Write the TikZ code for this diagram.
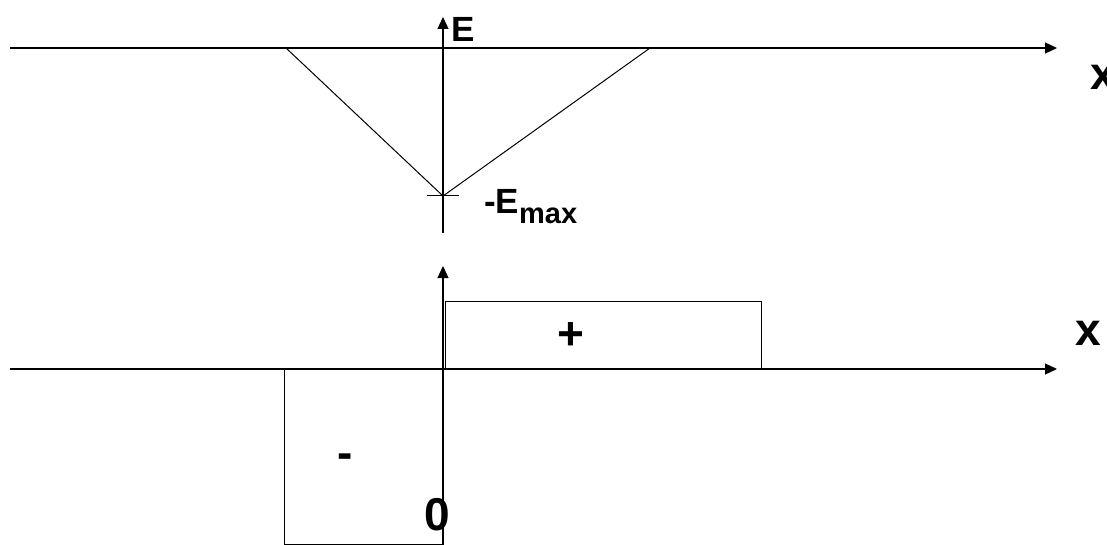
\documentclass[tikz,border=0pt]{standalone}
\usepackage{fontspec}
\setmainfont{Liberation Sans}
\usetikzlibrary{arrows.meta,positioning}
\tikzset{
  %% axes and plain lines
  axis/.style={-{Triangle[length=12pt,width=11pt]},line width=1.2pt,color=black},
  ln/.style={line width=1pt,color=black},
  %% text labels
  lbl/.style={font=\bfseries\fontsize{35}{38}\selectfont,inner sep=0pt},
  biglbl/.style={font=\bfseries\fontsize{46}{50}\selectfont,inner sep=0pt},
}
\newcommand{\subtxt}[1]{\raisebox{-10pt}{\fontsize{29}{32}\selectfont #1}}
\begin{document}
\begin{tikzpicture}[x=1pt,y=-1pt]
  \useasboundingbox (0,0) rectangle (1107,545);

  %% field plot (top)
  \coordinate (ta0) at (10,48);
  \coordinate (ta1) at (1057,48);
  \coordinate (ea0) at (443,233);
  \coordinate (ea1) at (443,17);
  \coordinate (vl)  at (286,48);
  \coordinate (vm)  at (443,196);
  \coordinate (vr)  at (650,48);
  \coordinate (tk0) at (427,196);
  \coordinate (tk1) at (459,196);

  \draw[axis] (ta0) -- (ta1);
  \draw[axis] (ea0) -- (ea1);
  \draw[ln] (vl) -- (vm) -- (vr);
  \draw[ln] (tk0) -- (tk1);

  \node[lbl,anchor=base west] (elbl) at (451,42) {E};
  \node[lbl,anchor=base west] (emax) at (484,214) {-E\subtxt{max}};
  \node[biglbl,anchor=base west] (xtop) at (1090,90) {x};

  %% charge plot (bottom)
  \coordinate (ba0) at (10,369);
  \coordinate (ba1) at (1057,369);
  \coordinate (ra0) at (443,545);
  \coordinate (ra1) at (443,266);

  \draw[axis] (ba0) -- (ba1);
  \draw[axis] (ra0) -- (ra1);
  \draw[ln] (445,369) rectangle (761,301);
  \draw[ln] (284,369) rectangle (443,544);

  \node[biglbl] (plus)  at (571,336) {+};
  \node[biglbl] (minus) at (345,461) {-};
  \node[biglbl] (zero)  at (437,515) {0};
  \node[biglbl,anchor=base west] (xbot) at (1075,345) {x};
\end{tikzpicture}
\end{document}
